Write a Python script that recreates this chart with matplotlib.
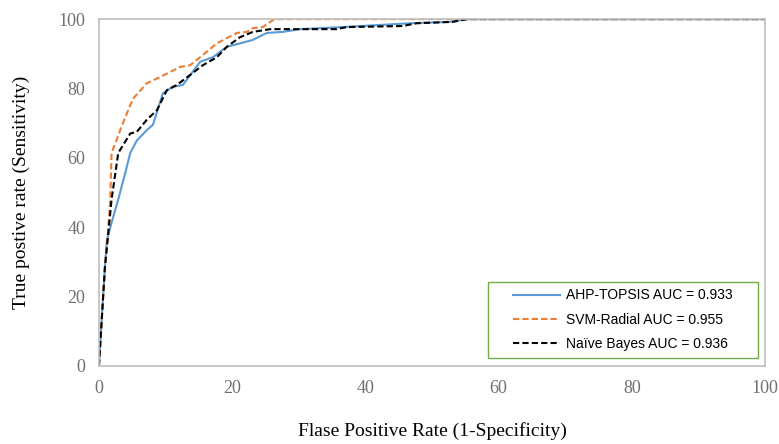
import matplotlib.pyplot as plt
from matplotlib.patches import Rectangle

# ROC points (FPR %, TPR %)
ahp_x = [0, 0.9, 1.2, 2.0, 2.9, 4.0, 4.7, 5.7, 7.2, 8.1, 9.6, 11.1, 12.6, 15.2, 17.1,
         19.2, 21.2, 23.1, 25.2, 27.6, 30.2, 36.6, 46.7, 52.7, 55.3, 100]
ahp_y = [0, 28.5, 36.3, 42, 48, 56, 61.4, 65, 68, 69.5, 78.6, 80.5, 81, 87.7, 89,
         92, 93, 94, 96, 96.3, 97.1, 97.7, 98.8, 99.2, 100, 100]

svm_x = [0, 0.9, 1.2, 1.7, 1.9, 3.6, 5.1, 7.2, 9.2, 12.2, 13.7, 15.2, 17.7, 20.7,
         22.2, 23.1, 24.6, 26.1, 27.0, 100]
svm_y = [0, 28.5, 34.3, 48, 61.4, 70, 77, 81.5, 83.3, 86.2, 86.7, 89, 93, 96,
         96.3, 97.4, 97.7, 99.7, 100, 100]

nb_x = [0, 0.9, 1.2, 1.9, 2.9, 4.7, 5.7, 7.2, 8.7, 10.2, 11.7, 13.7, 15.6, 17.7,
        19.2, 21.2, 23.1, 25.7, 35.7, 37.2, 45.6, 47.7, 53.1, 55.3, 100]
nb_y = [0, 28.5, 34.3, 48, 61.4, 67, 67.5, 71, 73.7, 79.5, 81, 83.9, 86.7, 89,
        92, 94.8, 96.3, 97.1, 97.1, 97.7, 98, 98.8, 99.2, 100, 100]

labels = ['AHP-TOPSIS AUC = 0.933', 'SVM-Radial AUC = 0.955', 'Naïve Bayes AUC = 0.936']

fig = plt.figure(figsize=(7.79, 4.44), dpi=100)
ax = fig.add_axes([0.127, 0.176, 0.855, 0.781])

ax.plot(ahp_x, ahp_y, color='#5B9BD5', lw=1.5, label=labels[0])
ax.plot(svm_x, svm_y, color='#ED7D31', lw=1.5, ls=(0, (3, 1.5)), label=labels[1])
ax.plot(nb_x, nb_y, color='black', lw=1.5, ls=(0, (3, 1.5)), label=labels[2])

ax.set_xlim(0, 100)
ax.set_ylim(0, 100)
ax.set_xticks(range(0, 101, 20))
ax.set_yticks(range(0, 101, 20))
ax.tick_params(length=0, pad=10, labelsize=13, labelcolor='#707070')
for lab in ax.get_xticklabels() + ax.get_yticklabels():
    lab.set_family('Liberation Serif')
for sp in ax.spines.values():
    sp.set_color('#BFBFBF')
    sp.set_linewidth(1.2)

ax.set_xlabel('Flase Positive Rate (1-Specificity)', family='Liberation Serif',
              fontsize=14, labelpad=18)
ax.set_ylabel('True postive rate (Sensitivity)', family='Liberation Serif',
              fontsize=14, labelpad=20)

# green legend box drawn separately so its size matches the reference
ax.add_patch(Rectangle((0.584, 0.023), 0.405, 0.219, transform=ax.transAxes,
                       fill=True, facecolor='white', edgecolor='#70AD47', lw=1.0, zorder=4))
leg = ax.legend(loc='center', bbox_to_anchor=(0.7865, 0.1325), frameon=False,
                prop={'family': 'Liberation Sans', 'size': 10}, handlelength=3.4,
                handletextpad=0.4, labelspacing=0.75, borderpad=0)
leg.set_zorder(5)

fig.savefig('out.png', dpi=100)
